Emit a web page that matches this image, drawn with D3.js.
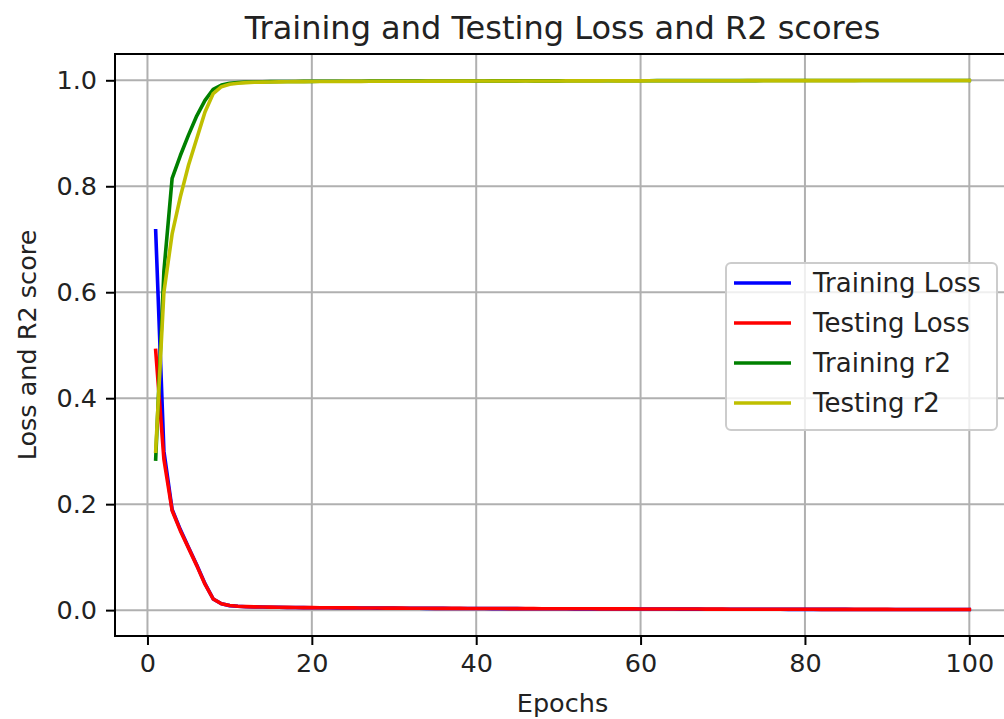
<!DOCTYPE html>
<html>
<head>
<meta charset="utf-8">
<script src="https://cdn.jsdelivr.net/npm/d3@7"></script>
<style>
  html, body { margin: 0; padding: 0; background: #ffffff; overflow: hidden; width: 1004px; height: 719px; }
  svg { display: block; font-family: "DejaVu Sans", sans-serif; overflow: hidden; }
</style>
</head>
<body>
<svg id="chart" width="1004" height="719" viewBox="0 0 1004 719"></svg>
<script>
// Per-epoch metrics recorded during training (epochs 1..100)
const trainLoss = [0.716, 0.300, 0.190, 0.152, 0.118, 0.085, 0.050, 0.021, 0.012, 0.0085,
  0.0072, 0.0065, 0.0061, 0.0058, 0.0055, 0.0053, 0.0051, 0.0049, 0.0047, 0.0046,
  0.0045, 0.0044, 0.0043, 0.0042, 0.0041, 0.0040, 0.0039, 0.0038, 0.0037, 0.0037,
  0.0036, 0.0035, 0.0035, 0.0034, 0.0033, 0.0033, 0.0032, 0.0032, 0.0031, 0.0030,
  0.0030, 0.0029, 0.0029, 0.0028, 0.0028, 0.0027, 0.0027, 0.0026, 0.0026, 0.0025,
  0.0025, 0.0024, 0.0024, 0.0024, 0.0023, 0.0023, 0.0022, 0.0022, 0.0022, 0.0021,
  0.0021, 0.0020, 0.0020, 0.0020, 0.0019, 0.0019, 0.0019, 0.0018, 0.0018, 0.0018,
  0.0017, 0.0017, 0.0017, 0.0016, 0.0016, 0.0016, 0.0016, 0.0015, 0.0015, 0.0015,
  0.0015, 0.0014, 0.0014, 0.0014, 0.0014, 0.0013, 0.0013, 0.0013, 0.0013, 0.0013,
  0.0012, 0.0012, 0.0012, 0.0012, 0.0012, 0.0011, 0.0011, 0.0011, 0.0011, 0.0011];

const testLoss = [0.490, 0.285, 0.188, 0.150, 0.117, 0.084, 0.049, 0.021, 0.012, 0.0088,
  0.0074, 0.0067, 0.0062, 0.0059, 0.0056, 0.0054, 0.0052, 0.0050, 0.0048, 0.0047,
  0.0046, 0.0045, 0.0044, 0.0043, 0.0042, 0.0041, 0.0040, 0.0039, 0.0038, 0.0038,
  0.0037, 0.0036, 0.0036, 0.0035, 0.0034, 0.0034, 0.0033, 0.0033, 0.0032, 0.0031,
  0.0031, 0.0030, 0.0030, 0.0029, 0.0029, 0.0028, 0.0028, 0.0027, 0.0027, 0.0026,
  0.0026, 0.0025, 0.0025, 0.0025, 0.0024, 0.0024, 0.0023, 0.0023, 0.0023, 0.0022,
  0.0022, 0.0021, 0.0021, 0.0021, 0.0020, 0.0020, 0.0020, 0.0019, 0.0019, 0.0019,
  0.0018, 0.0018, 0.0018, 0.0017, 0.0017, 0.0017, 0.0017, 0.0016, 0.0016, 0.0016,
  0.0016, 0.0015, 0.0015, 0.0015, 0.0015, 0.0014, 0.0014, 0.0014, 0.0014, 0.0014,
  0.0013, 0.0013, 0.0013, 0.0013, 0.0013, 0.0012, 0.0012, 0.0012, 0.0012, 0.0012];

const trainR2 = [0.285, 0.640, 0.815, 0.858, 0.897, 0.933, 0.962, 0.983, 0.991, 0.9945,
  0.9958, 0.9965, 0.9969, 0.9972, 0.9974, 0.9976, 0.9977, 0.9978, 0.9979, 0.9980,
  0.9981, 0.9981, 0.9982, 0.9982, 0.9983, 0.9983, 0.9984, 0.9984, 0.9985, 0.9985,
  0.9985, 0.9986, 0.9986, 0.9986, 0.9987, 0.9987, 0.9987, 0.9988, 0.9988, 0.9988,
  0.9988, 0.9989, 0.9989, 0.9989, 0.9989, 0.9990, 0.9990, 0.9990, 0.9990, 0.9990,
  0.9991, 0.9991, 0.9991, 0.9991, 0.9991, 0.9992, 0.9992, 0.9992, 0.9992, 0.9992,
  0.9992, 0.9993, 0.9993, 0.9993, 0.9993, 0.9993, 0.9993, 0.9994, 0.9994, 0.9994,
  0.9994, 0.9994, 0.9994, 0.9994, 0.9995, 0.9995, 0.9995, 0.9995, 0.9995, 0.9995,
  0.9995, 0.9995, 0.9996, 0.9996, 0.9996, 0.9996, 0.9996, 0.9996, 0.9996, 0.9996,
  0.9996, 0.9997, 0.9997, 0.9997, 0.9997, 0.9997, 0.9997, 0.9997, 0.9997, 0.9997];

const testR2 = [0.300, 0.600, 0.710, 0.780, 0.840, 0.890, 0.940, 0.975, 0.988, 0.9925,
  0.9945, 0.9956, 0.9962, 0.9966, 0.9969, 0.9971, 0.9973, 0.9974, 0.9975, 0.9976,
  0.9977, 0.9978, 0.9978, 0.9979, 0.9980, 0.9980, 0.9981, 0.9981, 0.9982, 0.9982,
  0.9983, 0.9983, 0.9983, 0.9984, 0.9984, 0.9984, 0.9985, 0.9985, 0.9985, 0.9986,
  0.9986, 0.9986, 0.9987, 0.9987, 0.9987, 0.9987, 0.9988, 0.9988, 0.9988, 0.9988,
  0.9989, 0.9989, 0.9989, 0.9989, 0.9989, 0.9990, 0.9990, 0.9990, 0.9990, 0.9990,
  0.9991, 0.9991, 0.9991, 0.9991, 0.9991, 0.9991, 0.9992, 0.9992, 0.9992, 0.9992,
  0.9992, 0.9992, 0.9993, 0.9993, 0.9993, 0.9993, 0.9993, 0.9993, 0.9993, 0.9994,
  0.9994, 0.9994, 0.9994, 0.9994, 0.9994, 0.9994, 0.9995, 0.9995, 0.9995, 0.9995,
  0.9995, 0.9995, 0.9995, 0.9995, 0.9996, 0.9996, 0.9996, 0.9996, 0.9996, 0.9996];

const seriesNames = ["Training Loss", "Testing Loss", "Training r2", "Testing r2"];
const seriesColors = ["#0000ff", "#ff0000", "#008000", "#bfbf00"];
const xTicks = [0, 20, 40, 60, 80, 100];
const yTicks = [0.0, 0.2, 0.4, 0.6, 0.8, 1.0];
const titleText = "Training and Testing Loss and R2 scores";
const xLabel = "Epochs";
const yLabel = "Loss and R2 score";

const epochs = trainLoss.map((_, i) => i + 1);
const seriesValues = [trainLoss, testLoss, trainR2, testR2];

// Plot frame; its right edge lies past the visible canvas
const W = 1004, H = 719;
const plot = { left: 115, right: 1010, top: 54, bottom: 636 };
const fontSize = 25.5;

const svg = d3.select("#chart");

// Clip everything to the canvas so nothing past the right edge shows
svg.append("defs").append("clipPath").attr("id", "canvas-clip")
  .append("rect").attr("x", 0).attr("y", 0).attr("width", W).attr("height", H);
const root = svg.append("g").attr("clip-path", "url(#canvas-clip)");

// Axis limits with 5% padding on each side of the data range
function padded(lo, hi) { const m = (hi - lo) * 0.05; return [lo - m, hi + m]; }
const xExt = d3.extent(epochs);
const yExt = d3.extent(seriesValues.flat());

const x = d3.scaleLinear().domain(padded(xExt[0], xExt[1])).range([plot.left, plot.right]);
const y = d3.scaleLinear().domain(padded(yExt[0], yExt[1])).range([plot.bottom, plot.top]);

// Grid
const grid = root.append("g");
grid.selectAll("line.gx").data(xTicks).join("line").attr("class", "gx")
  .attr("x1", d => x(d)).attr("x2", d => x(d))
  .attr("y1", plot.top).attr("y2", plot.bottom)
  .attr("stroke", "#b0b0b0").attr("stroke-width", 2);
grid.selectAll("line.gy").data(yTicks).join("line").attr("class", "gy")
  .attr("y1", d => y(d)).attr("y2", d => y(d))
  .attr("x1", plot.left).attr("x2", plot.right)
  .attr("stroke", "#b0b0b0").attr("stroke-width", 2);

// Series lines
const line = d3.line().x((d, i) => x(epochs[i])).y(d => y(d));
root.append("g").selectAll("path").data(seriesValues).join("path")
  .attr("d", d => line(d))
  .attr("fill", "none")
  .attr("stroke", (d, i) => seriesColors[i])
  .attr("stroke-width", 3.6)
  .attr("stroke-linejoin", "round")
  .attr("stroke-linecap", "square");

// Axes
const xAxis = d3.axisBottom(x).tickValues(xTicks).tickFormat(d3.format("d"))
  .tickSize(9).tickPadding(9).tickSizeOuter(0);
const yAxis = d3.axisLeft(y).tickValues(yTicks).tickFormat(d3.format(".1f"))
  .tickSize(9).tickPadding(9).tickSizeOuter(0);

const gx = root.append("g").attr("transform", `translate(0,${plot.bottom})`).call(xAxis);
const gy = root.append("g").attr("transform", `translate(${plot.left},0)`).call(yAxis);
[gx, gy].forEach(g => {
  g.select(".domain").remove();
  g.selectAll(".tick line").attr("stroke", "#000").attr("stroke-width", 2);
  g.selectAll(".tick text").attr("fill", "#222").style("font-size", fontSize + "px")
    .style("font-family", "DejaVu Sans, sans-serif");
});

// Spines: left, top and bottom (the right one falls outside the canvas)
const spines = [
  [plot.left, plot.top, plot.left, plot.bottom],
  [plot.left - 1, plot.top, plot.right, plot.top],
  [plot.left - 1, plot.bottom, plot.right, plot.bottom]
];
root.append("g").selectAll("line").data(spines).join("line")
  .attr("x1", d => d[0]).attr("y1", d => d[1]).attr("x2", d => d[2]).attr("y2", d => d[3])
  .attr("stroke", "#000").attr("stroke-width", 2);

// Title and axis labels
root.append("text").attr("x", (plot.left + plot.right) / 2).attr("y", 39)
  .attr("text-anchor", "middle").attr("fill", "#222")
  .style("font-size", "32px").text(titleText);
root.append("text").attr("x", (plot.left + plot.right) / 2).attr("y", 712)
  .attr("text-anchor", "middle").attr("fill", "#222")
  .style("font-size", fontSize + "px").text(xLabel);
root.append("text")
  .attr("transform", `translate(36,${(plot.top + plot.bottom) / 2}) rotate(-90)`)
  .attr("text-anchor", "middle").attr("fill", "#222")
  .style("font-size", fontSize + "px").text(yLabel);

// Legend
const legend = { x: 726, y: 263, w: 271, h: 167, rowStart: 283, rowStep: 40 };
const lg = root.append("g");
lg.append("rect")
  .attr("x", legend.x).attr("y", legend.y).attr("width", legend.w).attr("height", legend.h)
  .attr("rx", 5).attr("fill", "#fff").attr("fill-opacity", 0.8)
  .attr("stroke", "#cccccc").attr("stroke-width", 2);
const rows = lg.selectAll("g.row").data(seriesNames).join("g").attr("class", "row")
  .attr("transform", (d, i) => `translate(0,${legend.rowStart + i * legend.rowStep})`);
rows.append("line")
  .attr("x1", legend.x + 8).attr("x2", legend.x + 65)
  .attr("stroke", (d, i) => seriesColors[i]).attr("stroke-width", 3.6);
rows.append("text")
  .attr("x", legend.x + 87).attr("dy", "0.36em").attr("fill", "#222")
  .style("font-size", "26px").text(d => d);
</script>
</body>
</html>
